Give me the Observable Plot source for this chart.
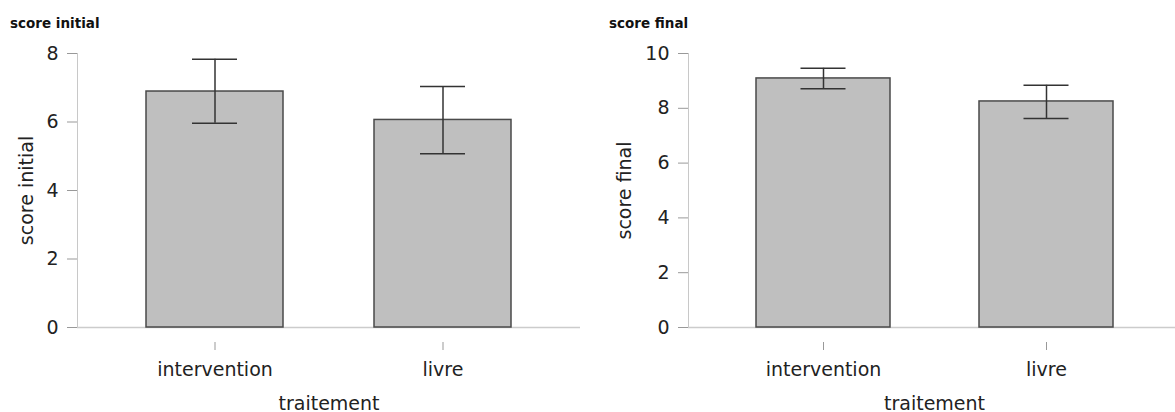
<!DOCTYPE html>
<html>
<head>
<meta charset="utf-8">
<script src="https://cdn.jsdelivr.net/npm/d3@7"></script>
<script src="https://cdn.jsdelivr.net/npm/@observablehq/plot@0.6"></script>
<style>
  body { margin: 0; background: white; overflow: hidden; }
  #wrap { display: flex; width: 1175px; height: 412px; overflow: hidden; }
  .panel { flex: none; }
  .title { font-family: "DejaVu Sans", sans-serif; font-weight: bold; font-size: 13.5px; line-height: 13px; height: 18px; padding-top: 17px; color: #111; }
</style>
</head>
<body>
<div id="wrap">
  <div class="panel" id="p1" style="width:600px"><div class="title" style="padding-left:10px">score initial</div></div>
  <div class="panel" id="p2" style="width:580px"><div class="title" style="padding-left:9px">score final</div></div>
</div>
<script>
const categories = ["intervention", "livre"];
const initialMean = [6.89, 6.06];
const initialLow = [5.96, 5.07];
const initialHigh = [7.83, 7.04];
const finalMean = [9.09, 8.25];
const finalLow = [8.71, 7.63];
const finalHigh = [9.46, 8.84];
const initialTicks = [0, 2, 4, 6, 8];
const finalTicks = [0, 2, 4, 6, 8, 10];
const xLabel = "traitement";

function rows(mean, low, high) {
  return categories.map((c, i) => ({cat: c, mean: mean[i], low: low[i], high: high[i]}));
}

function panel({data, ticks, ylabel, width, marginLeft, marginRight, yLabelOffset, capInset}) {
  return Plot.plot({
    width, height: 377,
    marginTop: 18, marginBottom: 85, marginLeft, marginRight,
    style: {fontFamily: "DejaVu Sans, sans-serif", fontSize: "19px", color: "#222", background: "white", overflow: "visible"},
    x: {domain: categories, paddingInner: 0.4, paddingOuter: 0.3, label: xLabel, labelArrow: "none"},
    y: {domain: [0, ticks[ticks.length - 1]], label: ylabel, labelArrow: "none"},
    marks: [
      Plot.frame({anchor: "left", stroke: "#c8c8c8"}),
      Plot.ruleY([0], {stroke: "#cccccc", strokeWidth: 1.5}),
      Plot.barY(data, {x: "cat", y: "mean", fill: "#bfbfbf", stroke: "#4a4a4a", strokeWidth: 1.5}),
      Plot.ruleX(data, {x: "cat", y1: "low", y2: "high", stroke: "#333", strokeWidth: 1.5}),
      Plot.tickY(data, {x: "cat", y: "low", insetLeft: capInset, insetRight: capInset, stroke: "#333", strokeWidth: 1.5}),
      Plot.tickY(data, {x: "cat", y: "high", insetLeft: capInset, insetRight: capInset, stroke: "#333", strokeWidth: 1.5}),
      Plot.axisY({ticks, tickSize: 10, tickPadding: 9, stroke: "#999", fill: "#222", label: ylabel, labelArrow: "none", labelAnchor: "center", labelOffset: yLabelOffset}),
      Plot.axisX({tickSize: 8, dy: 15, tickPadding: 12, stroke: "#999", fill: "#222", label: xLabel, labelArrow: "none", labelAnchor: "center", labelOffset: 82})
    ]
  });
}

document.getElementById("p1").appendChild(panel({
  data: rows(initialMean, initialLow, initialHigh), ticks: initialTicks, ylabel: "score initial",
  width: 600, marginLeft: 77, marginRight: 20, yLabelOffset: 58, capInset: 46
}));
document.getElementById("p2").appendChild(panel({
  data: rows(finalMean, finalLow, finalHigh), ticks: finalTicks, ylabel: "score final",
  width: 580, marginLeft: 88, marginRight: 0, yLabelOffset: 71, capInset: 44.5
}));
</script>
</body>
</html>
